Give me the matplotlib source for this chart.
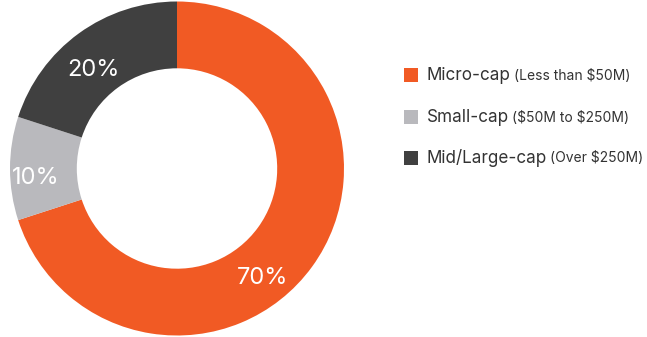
import matplotlib
matplotlib.use("Agg")
import matplotlib.pyplot as plt
from matplotlib.patches import Rectangle
import numpy as np

# market cap breakdown
shares = [70, 10, 20]
names = ["Micro-cap", "Small-cap", "Mid/Large-cap"]
ranges = ["(Less than $50M)", "($50M to $250M)", "(Over $250M)"]
colors = ["#F15A24", "#B9B9BD", "#404040"]

# where each percentage sits around the ring (degrees, radius)
label_angles = [-52, -176, 130.5]
label_radii = [0.835, 0.845, 0.775]

plt.rcParams["font.family"] = ["Inter", "DejaVu Sans"]
plt.rcParams["text.parse_math"] = False

fig = plt.figure(figsize=(6.47, 3.37), dpi=100)
W, H = 647, 337
ax = fig.add_axes([10 / W, 1 / H, 334 / W, 335 / H])
ax.set_aspect("equal")

ax.pie(shares, colors=colors, startangle=90, counterclock=False,
       radius=1.0, wedgeprops=dict(width=0.4, edgecolor="none"))

for val, ang, r in zip(shares, label_angles, label_radii):
    a = np.deg2rad(ang)
    ax.text(r * np.cos(a), r * np.sin(a), f"{val}%", color="white",
            fontsize=17, ha="center", va="center")

ax.set_xlim(-1, 1)
ax.set_ylim(-1, 1)
ax.axis("off")

# legend drawn by hand so the range note can be smaller
rows_y = [75, 117, 158]
fig.canvas.draw()
renderer = fig.canvas.get_renderer()
for name, rng, c, y in zip(names, ranges, colors, rows_y):
    yf = 1 - y / H
    fig.add_artist(Rectangle((404 / W, yf - 7 / H), 14 / W, 14 / H,
                             transform=fig.transFigure, color=c, lw=0))
    t = fig.text(427 / W, yf, name, fontsize=12.3, color="#333333",
                 va="center", ha="left")
    bb = t.get_window_extent(renderer)
    fig.text((bb.x1 + 3) / W, yf - 0.5 / H, rng, fontsize=10, color="#333333",
             va="center", ha="left")

fig.savefig("out.png", dpi=100)
